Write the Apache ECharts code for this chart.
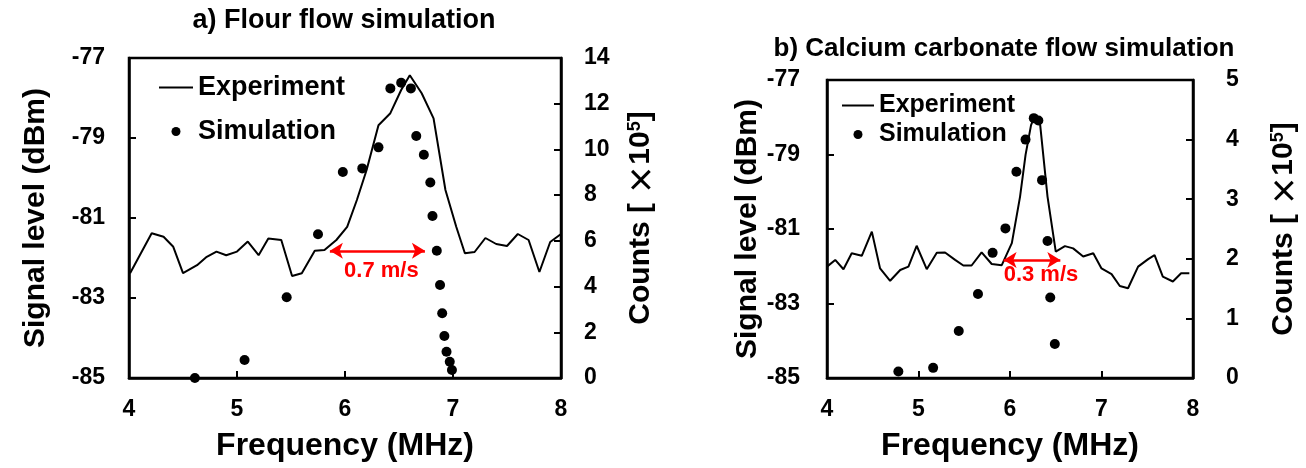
<!DOCTYPE html>
<html>
<head>
<meta charset="utf-8">
<script src="https://cdn.jsdelivr.net/npm/echarts@6/dist/echarts.min.js"></script>
<style>
  html, body { margin: 0; padding: 0; background: #fff; }
  #chart { width: 1306px; height: 468px; }
</style>
</head>
<body>
<div id="chart"></div>
<script>
// a) flour: measured spectrum (MHz, dBm) and simulated counts (x1e5)
var expAFreq = [4.01, 4.21, 4.32, 4.41, 4.50, 4.63, 4.72, 4.81, 4.90, 5.00, 5.10, 5.20, 5.29, 5.41, 5.51, 5.60, 5.72, 5.81, 5.92, 6.02, 6.11, 6.20, 6.31, 6.42, 6.52, 6.60, 6.71, 6.82, 6.93, 7.03, 7.11, 7.20, 7.30, 7.40, 7.50, 7.60, 7.70, 7.80, 7.90, 8.00]
var expALevel = [-82.38, -81.38, -81.47, -81.72, -82.38, -82.18, -81.97, -81.84, -81.93, -81.84, -81.59, -81.93, -81.51, -81.55, -82.45, -82.38, -81.82, -81.80, -81.55, -81.22, -80.55, -79.80, -78.68, -78.38, -77.80, -77.43, -77.88, -78.51, -80.30, -81.22, -81.88, -81.85, -81.50, -81.65, -81.70, -81.40, -81.55, -82.35, -81.60, -81.40]
var simAFreq = [4.61, 5.07, 5.46, 5.75, 5.98, 6.16, 6.31, 6.42, 6.52, 6.61, 6.66, 6.73, 6.79, 6.81, 6.85, 6.88, 6.90, 6.92, 6.94, 6.97, 6.99]
var simACount = [0.0, 0.79, 3.53, 6.29, 9.01, 9.17, 10.09, 12.67, 12.92, 12.67, 10.59, 9.77, 8.55, 7.09, 5.57, 4.07, 2.83, 1.84, 1.15, 0.71, 0.35]

// b) calcium carbonate
var expBFreq = [4.00, 4.09, 4.18, 4.27, 4.38, 4.49, 4.58, 4.69, 4.80, 4.89, 4.98, 5.09, 5.20, 5.29, 5.40, 5.49, 5.58, 5.69, 5.80, 5.91, 6.02, 6.11, 6.17, 6.23, 6.26, 6.30, 6.33, 6.41, 6.50, 6.60, 6.69, 6.80, 6.91, 7.00, 7.11, 7.20, 7.29, 7.40, 7.51, 7.58, 7.67, 7.78, 7.87, 7.96]
var expBLevel = [-82.01, -81.83, -82.08, -81.65, -81.72, -81.07, -82.06, -82.39, -82.10, -82.01, -81.45, -82.08, -81.64, -81.63, -81.83, -81.98, -81.98, -81.63, -81.94, -81.97, -81.38, -80.13, -79.01, -78.21, -78.03, -78.03, -78.21, -80.13, -81.61, -81.46, -81.52, -81.74, -81.65, -82.06, -82.21, -82.53, -82.59, -82.01, -81.81, -81.70, -82.28, -82.41, -82.19, -82.19]
var simBFreq = [4.78, 5.16, 5.44, 5.65, 5.81, 5.95, 6.07, 6.17, 6.26, 6.31, 6.35, 6.41, 6.44, 6.49]
var simBCount = [0.11, 0.17, 0.79, 1.41, 2.10, 2.51, 3.46, 4.00, 4.36, 4.32, 3.32, 2.30, 1.35, 0.57]

// velocity spread arrows: [from MHz, to MHz, level dBm]
var arrowA = [5.86, 6.74, -81.82]
var arrowB = [5.93, 6.55, -81.83]

var xTicks = [4, 5, 6, 7, 8]

function pairs(xs, ys) {
    var out = []
    for (var i = 0; i < xs.length; i++) out.push([xs[i], ys[i]])
    return out
}

var FONT = "'Liberation Sans', Arial, sans-serif"
var axisText = { color: '#000', fontFamily: FONT, fontWeight: 'bold', fontSize: 23 }
var nameText = {
    color: '#000', fontFamily: FONT, fontWeight: 'bold', fontSize: 30,
    rich: {
        x: { fontFamily: "'Noto Sans CJK JP', " + FONT, fontSize: 30, fontWeight: 'bold' },
        s: { fontSize: 18, fontWeight: 'bold', verticalAlign: 'top' }
    }
}

function xAxis(grid) {
    return {
        type: 'value', gridIndex: grid, min: xTicks[0], max: xTicks[xTicks.length - 1], interval: 1,
        name: 'Frequency (MHz)', nameLocation: 'middle', nameGap: 52,
        nameTextStyle: Object.assign({}, nameText, { fontSize: 32 }),
        axisLine: { lineStyle: { color: '#000', width: 2.5 } },
        axisTick: { inside: true, length: 7, lineStyle: { color: '#000', width: 2 } },
        axisLabel: Object.assign({ margin: 20 }, axisText),
        splitLine: { show: false }
    }
}

function levelAxis(grid, gap, margin) {
    return {
        type: 'value', gridIndex: grid, position: 'left', min: -85, max: -77, interval: 2,
        name: 'Signal level (dBm)', nameLocation: 'middle', nameGap: gap, nameTextStyle: nameText,
        axisLine: { show: true, lineStyle: { color: '#000', width: 2.5 } },
        axisTick: { inside: true, length: 7, lineStyle: { color: '#000', width: 2 } },
        axisLabel: Object.assign({ margin: margin }, axisText),
        splitLine: { show: false }
    }
}

function countAxis(grid, max, step, gap, margin) {
    return {
        type: 'value', gridIndex: grid, position: 'right', min: 0, max: max, interval: step,
        name: 'Counts [ {x|\u00d7}10{s|5}]', nameLocation: 'middle', nameGap: gap, nameTextStyle: nameText,
        axisLine: { show: true, lineStyle: { color: '#000', width: 2.5 } },
        axisTick: { inside: true, length: 7, lineStyle: { color: '#000', width: 2 } },
        axisLabel: Object.assign({ margin: margin }, axisText),
        splitLine: { show: false }
    }
}

function arrow(a, labelText, dist, shift) {
    return {
        silent: true,
        symbol: ['arrow', 'arrow'],
        symbolSize: [12, 13],
        lineStyle: { color: '#ff0000', width: 2.5, type: 'solid' },
        label: {
            show: true, formatter: labelText, position: 'insideMiddleBottom', distance: dist,
            padding: [0, 0, 0, shift],
            color: '#ff0000', fontFamily: FONT, fontWeight: 'bold', fontSize: 22
        },
        data: [[{ coord: [a[0], a[2]] }, { coord: [a[1], a[2]] }]]
    }
}

var chart = echarts.init(document.getElementById('chart'))
chart.setOption({
    animation: false,
    backgroundColor: '#fff',
    title: [
        { text: 'a) Flour flow simulation', left: 339, top: 2, textAlign: 'center',
          textStyle: { color: '#000', fontFamily: FONT, fontWeight: 'bold', fontSize: 27 } },
        { text: 'b) Calcium carbonate flow simulation', left: 999, top: 31, textAlign: 'center',
          textStyle: { color: '#000', fontFamily: FONT, fontWeight: 'bold', fontSize: 26 } }
    ],
    legend: [
        { orient: 'vertical', left: 153, top: 69, itemWidth: 34, itemHeight: 9, itemGap: 17,
          textStyle: { color: '#000', fontFamily: FONT, fontWeight: 'bold', fontSize: 27 },
          data: [{ name: 'Experiment', itemStyle: { opacity: 0 } }, 'Simulation'] },
        { orient: 'vertical', left: 836, top: 88, itemWidth: 32, itemHeight: 9, itemGap: 4,
          textStyle: { color: '#000', fontFamily: FONT, fontWeight: 'bold', fontSize: 25 },
          data: [{ name: 'Experiment ', itemStyle: { opacity: 0 } }, 'Simulation '] }
    ],
    grid: [
        { left: 129, top: 58, width: 432, height: 320, show: true, borderColor: '#000', borderWidth: 2.5 },
        { left: 827, top: 80, width: 366, height: 298, show: true, borderColor: '#000', borderWidth: 2.5 }
    ],
    xAxis: [xAxis(0), xAxis(1)],
    yAxis: [
        levelAxis(0, 78, 24),
        countAxis(0, 14, 2, 65, 23),
        levelAxis(1, 56, 27),
        countAxis(1, 5, 1, 76, 33)
    ],
    series: [
        { name: 'Experiment', type: 'line', xAxisIndex: 0, yAxisIndex: 0, data: pairs(expAFreq, expALevel),
          symbol: 'none', lineStyle: { color: '#000', width: 2 }, itemStyle: { color: '#000' },
          markLine: arrow(arrowA, '0.7 m/s', 9, 8) },
        { name: 'Simulation', type: 'scatter', xAxisIndex: 0, yAxisIndex: 1, data: pairs(simAFreq, simACount),
          symbol: 'circle', symbolSize: 10, itemStyle: { color: '#000', opacity: 1 }, clip: false },
        { name: 'Experiment ', type: 'line', xAxisIndex: 1, yAxisIndex: 2, data: pairs(expBFreq, expBLevel),
          symbol: 'none', lineStyle: { color: '#000', width: 2 }, itemStyle: { color: '#000' },
          markLine: arrow(arrowB, '0.3 m/s', 4, 18) },
        { name: 'Simulation ', type: 'scatter', xAxisIndex: 1, yAxisIndex: 3, data: pairs(simBFreq, simBCount),
          symbol: 'circle', symbolSize: 10, itemStyle: { color: '#000', opacity: 1 }, clip: false }
    ]
})
</script>
</body>
</html>
